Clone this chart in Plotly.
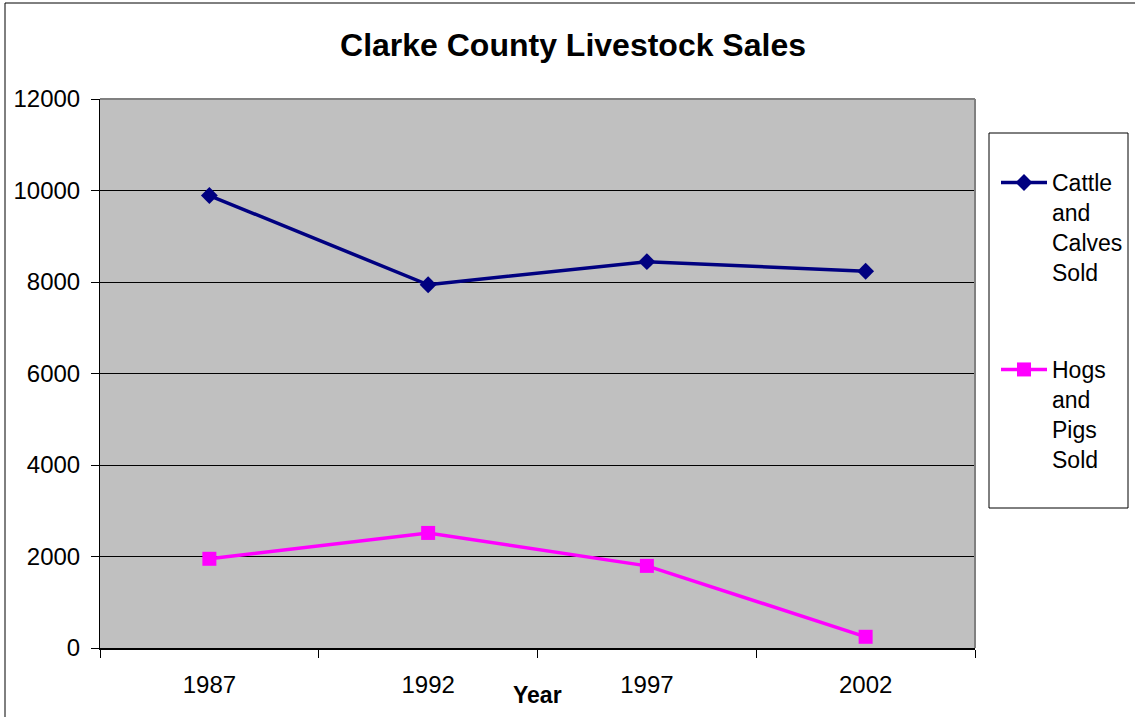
import plotly.graph_objects as go

years = ["1987", "1992", "1997", "2002"]
cattle = [9890, 7940, 8445, 8235]
hogs = [1950, 2515, 1795, 245]
y_ticks = [0, 2000, 4000, 6000, 8000, 10000, 12000]
y_tick_text = ["0", "2000", "4000", "6000", "8000", "10000", "12000"]

FONT = "Liberation Sans, Arial, sans-serif"
L, R, T, B = 100, 160, 99, 69
W, H = 1135, 717
pw, ph = W - L - R, H - T - B

def px(x):
    return (x - L) / pw

def py(y):
    return (H - B - y) / ph

fig = go.Figure()
fig.add_trace(go.Scatter(
    x=years, y=cattle, mode="lines+markers",
    name="Cattle<br>and<br>Calves<br>Sold",
    line=dict(color="#000080", width=3.5),
    marker=dict(symbol="diamond", size=13, color="#000080"),
    legend="legend",
))
fig.add_trace(go.Scatter(
    x=years, y=hogs, mode="lines+markers",
    name="Hogs<br>and<br>Pigs<br>Sold",
    line=dict(color="#FF00FF", width=3.5),
    marker=dict(symbol="square", size=14, color="#FF00FF"),
    legend="legend2",
))

leg_common = dict(
    font=dict(family=FONT, size=23, color="black"),
    bgcolor="rgba(0,0,0,0)", borderwidth=0,
    xanchor="left", yanchor="top", valign="top",
    itemwidth=46,
)

fig.update_layout(
    width=W, height=H,
    margin=dict(l=L, r=R, t=T, b=B, autoexpand=False),
    paper_bgcolor="white",
    plot_bgcolor="#C0C0C0",
    font=dict(family=FONT, size=23, color="black"),
    title=dict(text="<b>Clarke County Livestock Sales</b>",
               font=dict(family=FONT, size=32, color="black"),
               x=px(573), xref="paper", xanchor="center",
               y=1 - 45 / H, yanchor="middle"),
    legend=dict(x=px(996), y=py(161), **leg_common),
    legend2=dict(x=px(996), y=py(348), **leg_common),
    xaxis=dict(
        type="category", range=[-0.5, 3.5],
        showgrid=False, tickson="boundaries",
        ticks="outside", ticklen=8, tickcolor="black", tickwidth=1,
        showline=True, linecolor="black", linewidth=1.5, mirror=False,
        tickfont=dict(family=FONT, size=24, color="black"),
        ticklabelstandoff=14, automargin=False,
    ),
    yaxis=dict(
        range=[0, 12000], tickvals=y_ticks, ticktext=y_tick_text,
        showgrid=True, gridcolor="black", gridwidth=1,
        ticks="outside", ticklen=8, tickcolor="black",
        showline=True, linecolor="black", linewidth=1,
        tickfont=dict(family=FONT, size=24, color="black"),
        ticklabelstandoff=6, zeroline=False, automargin=False,
    ),
    showlegend=True,
    annotations=[dict(
        text="<b>Year</b>", x=px(537), y=py(695), xref="paper", yref="paper",
        showarrow=False, font=dict(family=FONT, size=23, color="black"),
        xanchor="center", yanchor="middle",
    )],
    shapes=[
        dict(type="line", xref="paper", yref="paper", x0=0, x1=1, y0=1, y1=1,
             line=dict(color="#808080", width=2)),
        dict(type="line", xref="paper", yref="paper", x0=1, x1=1, y0=0, y1=1,
             line=dict(color="#808080", width=2)),
        dict(type="rect", xref="paper", yref="paper",
             x0=px(989), x1=px(1128), y0=py(508), y1=py(133),
             line=dict(color="black", width=1), fillcolor="rgba(0,0,0,0)"),
        dict(type="rect", xref="paper", yref="paper",
             x0=px(5), x1=px(1145), y0=py(725), y1=py(3),
             line=dict(color="black", width=1), fillcolor="rgba(0,0,0,0)"),
    ],
)

fig.write_html("out.html",
               config={"displayModeBar": False},
               post_script="document.body.style.margin='0';document.body.style.overflow='hidden';")
